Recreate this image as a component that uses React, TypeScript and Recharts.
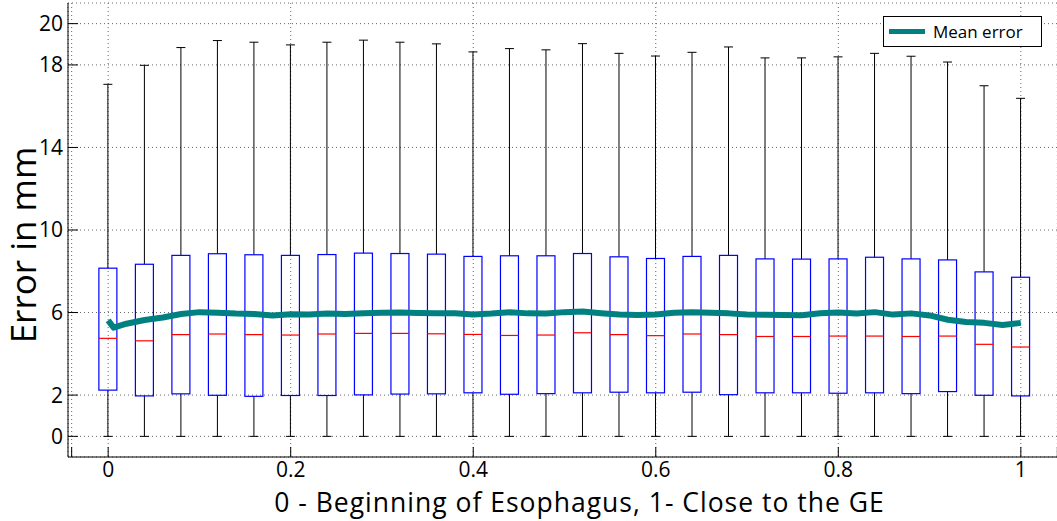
import React from 'react';
import { ComposedChart, Bar, Line, XAxis, YAxis, CartesianGrid, Legend } from 'recharts';

const positions = [0, 0.04, 0.08, 0.12, 0.16, 0.2, 0.24, 0.28, 0.32, 0.36, 0.4, 0.44, 0.48, 0.52, 0.56, 0.6, 0.64, 0.68, 0.72, 0.76, 0.8, 0.84, 0.88, 0.92, 0.96, 1];
const whiskerLow = [0, 0, 0, 0, 0, 0, 0, 0, 0, 0, 0, 0, 0, 0, 0, 0, 0, 0, 0, 0, 0, 0, 0, 0, 0, 0];
const q1 = [2.24, 1.96, 2.06, 1.99, 1.94, 1.98, 1.98, 2.01, 2.05, 2.06, 2.11, 2.04, 2.07, 2.11, 2.14, 2.11, 2.14, 2.02, 2.11, 2.11, 2.09, 2.11, 2.07, 2.17, 1.99, 1.96];
const median = [4.75, 4.63, 4.93, 4.96, 4.93, 4.91, 4.96, 4.99, 4.99, 4.97, 4.94, 4.89, 4.91, 5.02, 4.93, 4.88, 4.96, 4.93, 4.84, 4.84, 4.86, 4.86, 4.84, 4.86, 4.46, 4.33];
const q3 = [8.15, 8.34, 8.77, 8.85, 8.8, 8.77, 8.81, 8.88, 8.86, 8.83, 8.72, 8.75, 8.75, 8.86, 8.7, 8.62, 8.72, 8.77, 8.6, 8.59, 8.6, 8.68, 8.6, 8.55, 7.97, 7.71];
const whiskerHigh = [17.06, 17.98, 18.84, 19.18, 19.1, 18.97, 19.1, 19.2, 19.1, 19.02, 18.63, 18.79, 18.73, 19.03, 18.56, 18.43, 18.61, 18.87, 18.34, 18.34, 18.39, 18.56, 18.42, 18.14, 16.99, 16.38];

const meanX = [0, 0.006, 0.02, 0.04, 0.06, 0.08, 0.1, 0.12, 0.14, 0.16, 0.18, 0.2, 0.22, 0.24, 0.26, 0.28, 0.3, 0.32, 0.34, 0.36, 0.38, 0.4, 0.42, 0.44, 0.46, 0.48, 0.5, 0.52, 0.54, 0.56, 0.58, 0.6, 0.62, 0.64, 0.66, 0.68, 0.7, 0.72, 0.74, 0.76, 0.78, 0.8, 0.82, 0.84, 0.86, 0.88, 0.9, 0.92, 0.94, 0.96, 0.98, 1];
const meanY = [5.62, 5.27, 5.46, 5.64, 5.76, 5.93, 6.02, 5.99, 5.95, 5.93, 5.86, 5.92, 5.9, 5.95, 5.93, 5.97, 5.99, 6.0, 5.98, 5.97, 5.97, 5.91, 5.95, 6.01, 5.96, 5.95, 6.02, 6.05, 5.97, 5.9, 5.88, 5.91, 5.99, 6.02, 5.99, 5.96, 5.91, 5.89, 5.88, 5.87, 5.97, 6.0, 5.95, 6.02, 5.9, 5.96, 5.86, 5.65, 5.54, 5.5, 5.4, 5.5];

const xTicks = [-0.04, 0, 0.2, 0.4, 0.6, 0.8, 1, 1.04];
const xTickLabels = ['', '0', '0.2', '0.4', '0.6', '0.8', '1', ''];
const yTicks = [0, 2, 6, 10, 14, 18, 20];

const boxData = positions.map((x, i) => ({
  x,
  low: whiskerLow[i],
  q1: q1[i],
  median: median[i],
  q3: q3[i],
  high: whiskerHigh[i],
}));
const meanData = meanX.map((x, i) => ({ x, mean: meanY[i] }));

const FONT = "'Open Sans', 'DejaVu Sans', sans-serif";
const TEAL = '#008080';
const BOX_W = 18;

const BoxShape = (props: any) => {
  const { x, y, width, height, payload } = props;
  if (height == null || !payload) return null;
  const { low, q1: b1, median: med, q3: b3, high } = payload;
  const k = height / (high - low);
  const yOf = (v: number) => y + (high - v) * k;
  const cx = x + width / 2;
  const half = BOX_W / 2;
  const cap = BOX_W / 4;
  return (
    <g>
      <line x1={cx} x2={cx} y1={yOf(high)} y2={yOf(b3)} stroke="#000" strokeWidth={1} />
      <line x1={cx} x2={cx} y1={yOf(b1)} y2={yOf(low)} stroke="#000" strokeWidth={1} />
      <line x1={cx - cap} x2={cx + cap} y1={yOf(high)} y2={yOf(high)} stroke="#000" strokeWidth={1} />
      <line x1={cx - cap} x2={cx + cap} y1={yOf(low)} y2={yOf(low)} stroke="#000" strokeWidth={1} />
      <rect x={cx - half} y={yOf(b3)} width={BOX_W} height={yOf(b1) - yOf(b3)} fill="none" stroke="#0000ff" strokeWidth={1.2} />
      <line x1={cx - half} x2={cx + half} y1={yOf(med)} y2={yOf(med)} stroke="#ff0000" strokeWidth={1.2} />
    </g>
  );
};

const LegendBox = () => (
  <div
    style={{
      display: 'flex',
      alignItems: 'center',
      border: '1px solid #000',
      background: '#fff',
      height: 29,
      width: 157,
      boxSizing: 'content-box',
      fontFamily: FONT,
    }}
  >
    <div style={{ width: 36, height: 5, background: TEAL, marginLeft: 5, marginRight: 8 }} />
    <span style={{ fontSize: 17, color: '#000' }}>Mean error</span>
  </div>
);

export default function App() {
  return (
    <div style={{ position: 'fixed', left: 0, top: 0, width: 1057, height: 521, overflow: 'hidden', background: '#fff' }}>
      <ComposedChart width={1072} height={521} data={boxData} margin={{ top: 3, right: 0, bottom: 0, left: 0 }}>
        <CartesianGrid stroke="#666" strokeDasharray="1 3" horizontal vertical />
        <XAxis
          dataKey="x"
          type="number"
          domain={[-0.044, 1.044]}
          allowDataOverflow
          ticks={xTicks}
          interval={0}
          tickFormatter={(v: number) => xTickLabels[xTicks.indexOf(v)] ?? ''}
          tickSize={-10}
          tickMargin={15}
          height={64}
          stroke="#000"
          tick={{ fontSize: 21, fill: '#000', fontFamily: FONT }}
          label={{
            content: (p: any) => {
              const vb = p.viewBox || {};
              const cx = vb.x + vb.width / 2 + 15;
              const cy = vb.y + 55;
              return (
                <text x={cx} y={cy} textAnchor="middle" fontSize={26.5} letterSpacing={1} fontFamily={FONT} fill="#000">
                  0 - Beginning of Esophagus, 1- Close to the GE
                </text>
              );
            },
          }}
        />
        <XAxis
          xAxisId="top"
          orientation="top"
          type="number"
          domain={[-0.044, 1.044]}
          allowDataOverflow
          ticks={xTicks}
          interval={0}
          tick={false}
          tickSize={-10}
          height={0}
          stroke="#000"
        />
        <YAxis
          type="number"
          domain={[-1, 21]}
          allowDataOverflow
          ticks={yTicks}
          interval={0}
          tickSize={-10}
          tickMargin={15}
          width={68}
          stroke="#000"
          tick={{ fontSize: 21, fill: '#000', fontFamily: FONT }}
          label={{
            content: (p: any) => {
              const vb = p.viewBox || {};
              const cx = vb.x + 36;
              const cy = vb.y + vb.height / 2 + 15;
              return (
                <text x={cx} y={cy} transform={`rotate(-90 ${cx} ${cy})`} textAnchor="middle" fontSize={35} fontFamily={FONT} fill="#000">
                  Error in mm
                </text>
              );
            },
          }}
        />
        <YAxis
          yAxisId="right"
          orientation="right"
          type="number"
          domain={[-1, 21]}
          allowDataOverflow
          ticks={yTicks}
          interval={0}
          tick={false}
          tickSize={-10}
          width={11}
          stroke="#000"
        />
        <Bar
          dataKey={(d: any) => [d.low, d.high]}
          barSize={18}
          shape={BoxShape}
          isAnimationActive={false}
          legendType="none"
        />
        <Line
          data={meanData}
          dataKey="mean"
          type="linear"
          stroke={TEAL}
          strokeWidth={6}
          dot={false}
          activeDot={false}
          isAnimationActive={false}
          strokeLinejoin="round"
        />
        <Legend
          layout="horizontal"
          verticalAlign="middle"
          align="center"
          content={() => <LegendBox />}
          wrapperStyle={{ left: 883, top: 16, width: 'auto', height: 'auto', right: 'auto', bottom: 'auto' }}
        />
      </ComposedChart>
    </div>
  );
}
